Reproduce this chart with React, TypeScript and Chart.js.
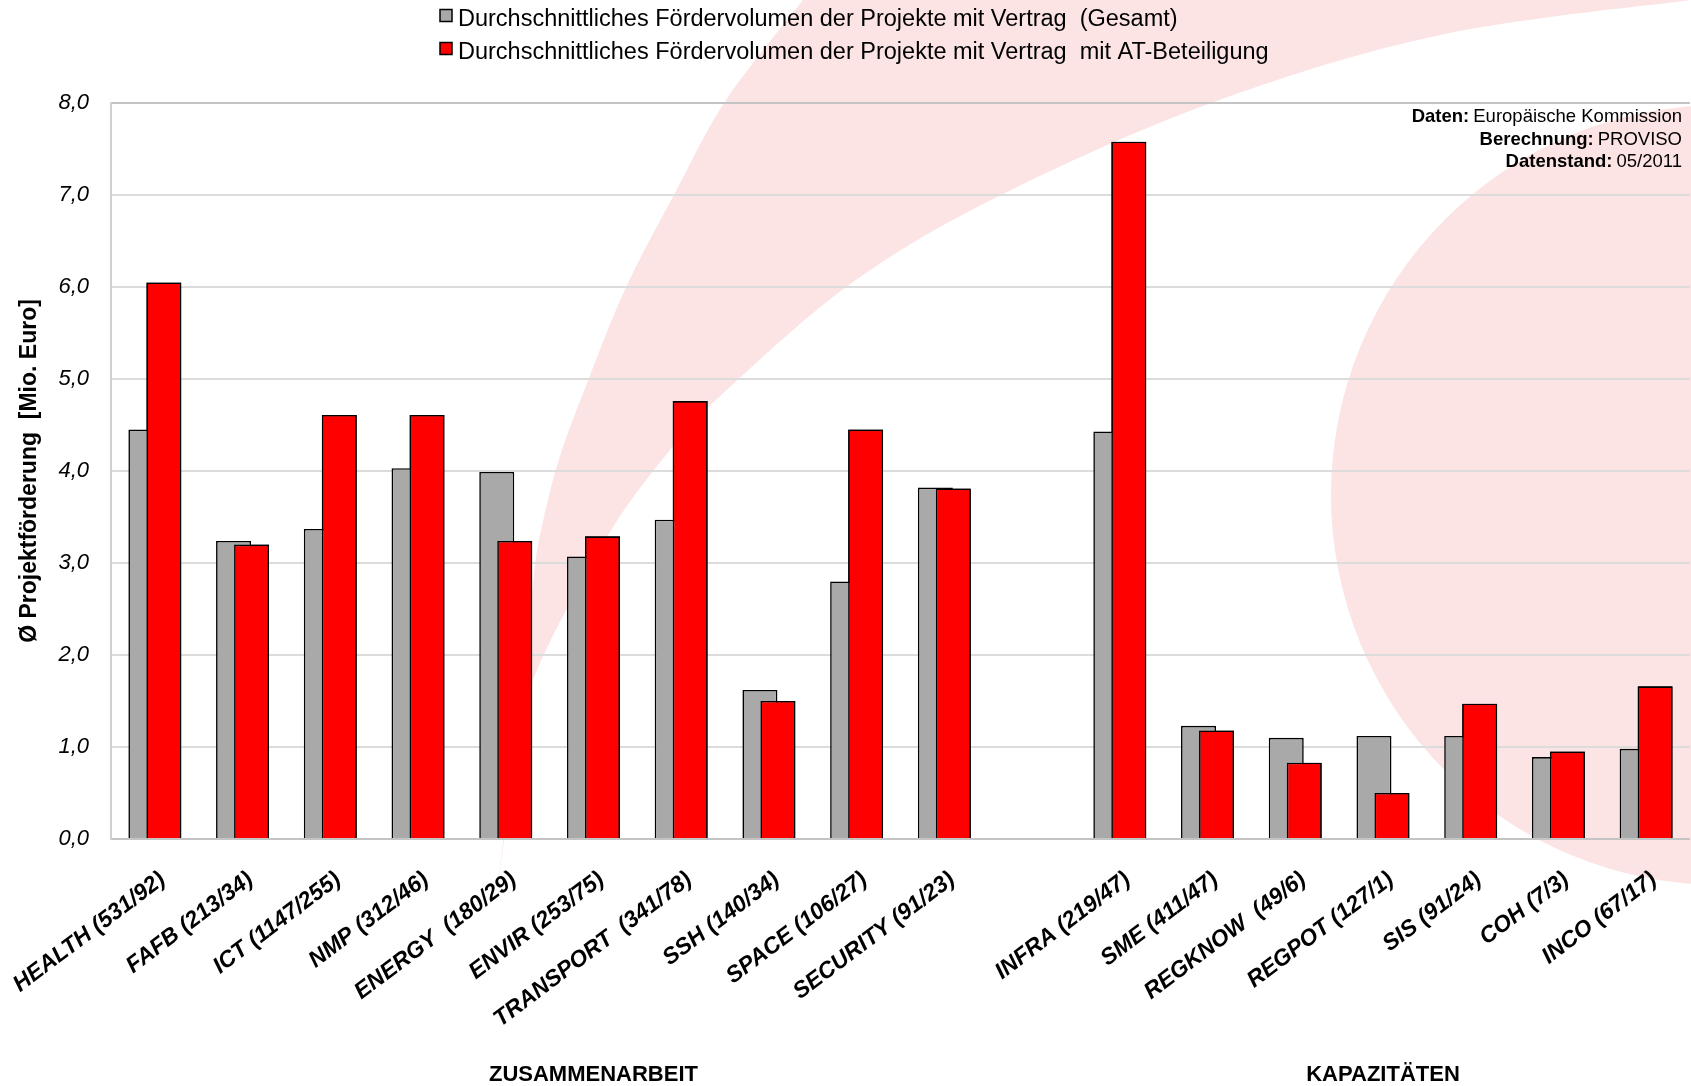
import React, { useEffect, useRef } from 'react';
import { Chart, registerables } from 'chart.js';

Chart.register(...registerables);

const FONT = "'Liberation Sans', Arial, Helvetica, sans-serif";

const categories = [
  'HEALTH (531/92)',
  'FAFB (213/34)',
  'ICT (1147/255)',
  'NMP (312/46)',
  'ENERGY  (180/29)',
  'ENVIR (253/75)',
  'TRANSPORT  (341/78)',
  'SSH (140/34)',
  'SPACE (106/27)',
  'SECURITY (91/23)',
  '',
  'INFRA (219/47)',
  'SME (411/47)',
  'REGKNOW  (49/6)',
  'REGPOT (127/1)',
  'SIS (91/24)',
  'COH (7/3)',
  'INCO (67/17)',
];

const groupNames = ['ZUSAMMENARBEIT', 'KAPAZITÄTEN'];
const groupFirst = [0, 11];
const groupLast = [10, 17];

const seriesNames = [
  'Durchschnittliches Fördervolumen der Projekte mit Vertrag  (Gesamt)',
  'Durchschnittliches Fördervolumen der Projekte mit Vertrag  mit AT-Beteiligung',
];

const gesamt = [4.45, 3.24, 3.37, 4.03, 3.99, 3.07, 3.47, 1.62, 2.8, 3.82, null, 4.43, 1.23, 1.1, 1.12, 1.12, 0.89, 0.98];
const atBeteiligung = [6.05, 3.2, 4.61, 4.61, 3.24, 3.29, 4.76, 1.5, 4.45, 3.81, null, 7.58, 1.18, 0.83, 0.5, 1.47, 0.95, 1.66];

const seriesColors = ['#A9A9A9', '#FF0000'];

const yMin = 0;
const yMax = 8;
const yStep = 1;
const yTitle = 'Ø Projektförderung  [Mio. Euro]';

const sourceLabels = ['Daten:', 'Berechnung:', 'Datenstand:'];
const sourceValues = ['Europäische Kommission', 'PROVISO', '05/2011'];

// decorative background swoosh (not data)
const PINK = '#FCE4E5';
const bandOuter: number[][] = [
  [803, 0], [726, 100], [675, 193], [627, 285], [589, 378], [562, 450], [548, 500], [536, 557], [530, 620], [516, 750], [496, 900],
];
const bandInner: number[][] = [
  [496, 900], [512, 780], [533, 680], [607, 537], [670, 450], [716, 400], [849, 285], [997, 197], [1211, 103], [1440, 35], [1691, 0],
];

function smoothPath(ctx: CanvasRenderingContext2D, pts: number[][]) {
  for (let i = 0; i < pts.length - 1; i++) {
    const p0 = pts[i - 1] || pts[i];
    const p1 = pts[i];
    const p2 = pts[i + 1];
    const p3 = pts[i + 2] || p2;
    ctx.bezierCurveTo(
      p1[0] + (p2[0] - p0[0]) / 6,
      p1[1] + (p2[1] - p0[1]) / 6,
      p2[0] - (p3[0] - p1[0]) / 6,
      p2[1] - (p3[1] - p1[1]) / 6,
      p2[0],
      p2[1]
    );
  }
}

const bgPlugin = {
  id: 'bg',
  beforeDraw(chart: any) {
    const ctx: CanvasRenderingContext2D = chart.ctx;
    ctx.save();
    ctx.fillStyle = '#fff';
    ctx.fillRect(0, 0, chart.width, chart.height);
    ctx.fillStyle = PINK;
    ctx.beginPath();
    ctx.moveTo(bandOuter[0][0], bandOuter[0][1]);
    smoothPath(ctx, bandOuter);
    smoothPath(ctx, bandInner);
    ctx.closePath();
    ctx.fill();
    ctx.beginPath();
    ctx.arc(1721, 495, 390, 0, Math.PI * 2);
    ctx.fill();
    ctx.restore();
  },
};

const redOnTop = {
  id: 'redOnTop',
  afterDatasetsDraw(chart: any) {
    const meta = chart.getDatasetMeta(1);
    if (meta && meta.controller) meta.controller.draw();
  },
};

const textPlugin = {
  id: 'texts',
  afterDraw(chart: any) {
    const ctx: CanvasRenderingContext2D = chart.ctx;
    ctx.save();
    // legend
    ctx.font = `23.5px ${FONT}`;
    ctx.textAlign = 'left';
    ctx.textBaseline = 'alphabetic';
    seriesNames.forEach((name, i) => {
      const y = 9.5 + i * 33;
      ctx.fillStyle = seriesColors[i];
      ctx.fillRect(440, y, 12, 12);
      ctx.strokeStyle = '#000';
      ctx.lineWidth = 1.5;
      ctx.strokeRect(440, y, 12, 12);
      ctx.fillStyle = '#000';
      ctx.fillText(name, 458, y + 16);
    });
    // source notes
    const right = 1682;
    sourceLabels.forEach((lab, i) => {
      const y = 122 + i * 22.5;
      ctx.font = `18.5px ${FONT}`;
      ctx.textAlign = 'right';
      ctx.fillStyle = '#000';
      ctx.fillText(sourceValues[i], right, y);
      const w = ctx.measureText(sourceValues[i]).width;
      ctx.font = `bold 18.5px ${FONT}`;
      ctx.fillText(lab, right - w - 4, y);
    });
    // group labels
    const xs = chart.scales.x;
    ctx.font = `bold 22px ${FONT}`;
    ctx.textAlign = 'center';
    groupNames.forEach((g, i) => {
      const cx = (xs.getPixelForValue(groupFirst[i]) + xs.getPixelForValue(groupLast[i])) / 2;
      ctx.fillText(g, cx, 1081);
    });
    ctx.restore();
  },
};

export default function App() {
  const ref = useRef<HTMLCanvasElement>(null);
  useEffect(() => {
    const canvas = ref.current!;
    const chart = new Chart(canvas, {
      type: 'bar',
      data: {
        labels: categories,
        datasets: [
          {
            label: seriesNames[0],
            data: gesamt,
            backgroundColor: seriesColors[0],
            borderColor: '#000',
            borderWidth: 1.6,
          },
          {
            label: seriesNames[1],
            data: atBeteiligung,
            backgroundColor: seriesColors[1],
            borderColor: '#000',
            borderWidth: 1.6,
          },
        ],
      },
      options: {
        animation: false,
        responsive: false,
        devicePixelRatio: 1,
        datasets: { bar: { categoryPercentage: 0.4104, barPercentage: 1.944 } },
        layout: { padding: { top: 103, right: 1, left: 0, bottom: 0 } },
        plugins: {
          legend: { display: false },
          tooltip: { enabled: false },
          title: { display: false },
        },
        scales: {
          x: {
            grid: { display: false, drawTicks: false },
            border: { display: false },
            ticks: {
              autoSkip: false,
              minRotation: 37,
              maxRotation: 37,
              padding: 27,
              labelOffset: 8,
              color: '#000',
              font: { family: FONT, size: 23, weight: 'bold', style: 'italic' },
            },
            afterFit: (s: any) => {
              s.height = 247;
              s.paddingLeft = 0;
              s.paddingRight = 0;
            },
          },
          y: {
            min: yMin,
            max: yMax,
            ticks: {
              stepSize: yStep,
              padding: 22,
              color: '#000',
              font: { family: FONT, size: 22, style: 'italic' },
              callback: (v: any) => Number(v).toFixed(1).replace('.', ','),
            },
            grid: {
              drawTicks: false,
              lineWidth: 2,
              color: (c: any) =>
                c.tick && (c.tick.value === yMin || c.tick.value === yMax) ? '#C4C4C4' : '#DCDCDC',
            },
            border: { display: true, color: '#D0D0D0', width: 2 },
            title: {
              display: true,
              text: yTitle,
              color: '#000',
              font: { family: FONT, size: 23, weight: 'bold' },
              padding: { top: 16, bottom: 0 },
            },
            afterFit: (s: any) => {
              s.width = 111;
            },
          },
        },
      } as any,
      plugins: [bgPlugin, redOnTop, textPlugin],
    });
    return () => chart.destroy();
  }, []);
  return (
    <div style={{ position: 'fixed', left: 0, top: 0, width: 1691, height: 1086, background: '#fff' }}>
      <canvas ref={ref} width={1691} height={1086} style={{ display: 'block' }} />
    </div>
  );
}
